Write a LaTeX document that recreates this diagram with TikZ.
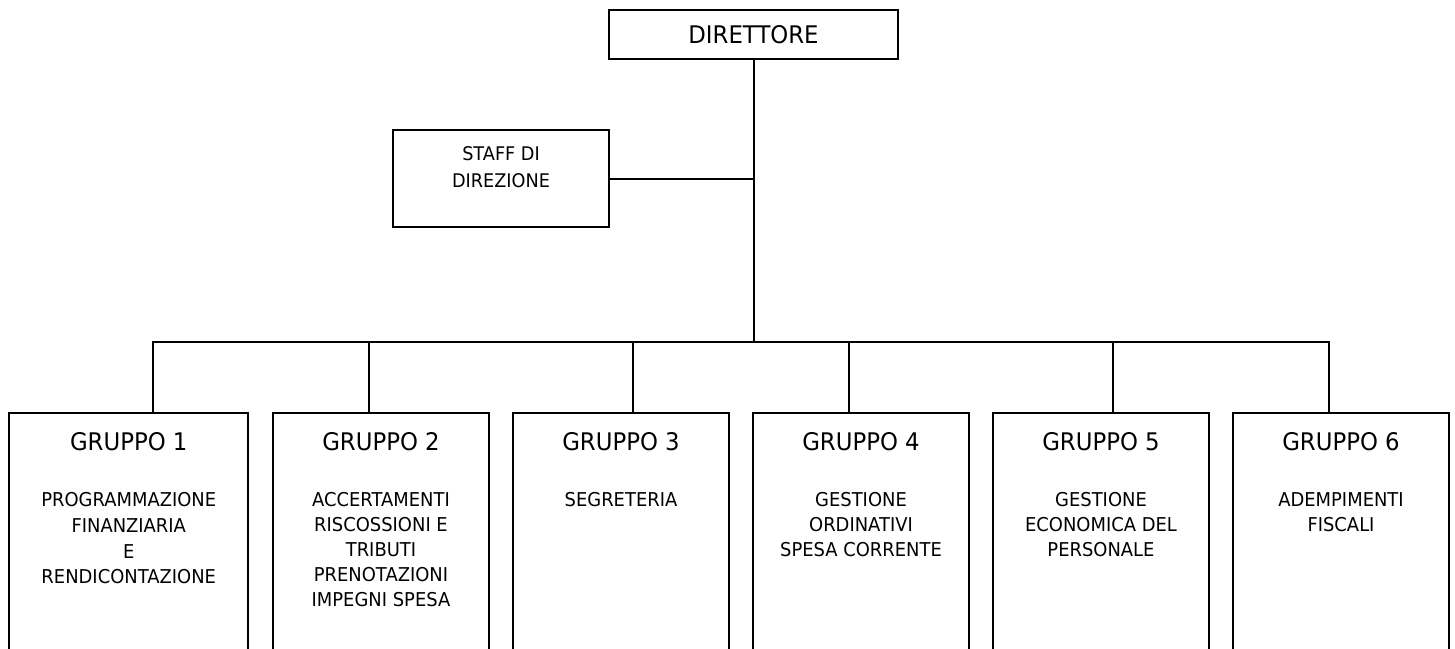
\documentclass[tikz,border=0pt]{standalone}
\usepackage{fontspec}
\setmainfont{DejaVu Sans}[FakeStretch=0.94]
\begin{document}
\begin{tikzpicture}[x=0.75pt,y=-0.75pt,
  box/.style={draw, line width=1.5pt, rectangle, inner sep=0pt},
  wire/.style={line width=1.5pt},
  head/.style={font=\fontsize{18.2pt}{22pt}\selectfont, inner sep=0pt},
  title/.style={font=\fontsize{18.2pt}{22pt}\selectfont, inner sep=0pt, anchor=base},
  desc/.style={font=\fontsize{14.3pt}{18.7pt}\selectfont, align=center, inner sep=0pt, anchor=north},
  grp/.style={box, minimum width=162pt, minimum height=215pt},
]
\clip (0,0) rectangle (1455,649);

% top of the chart
\node[box, head, minimum width=216.75pt, minimum height=36.5pt] (dir) at (753.5,34.3) {DIRETTORE};

\node[box, minimum width=162pt, minimum height=72.75pt] (staff) at (501,178.5) {};
\node[desc, font=\fontsize{14.1pt}{19.8pt}\selectfont] (staffT) at (501,146.5) {STAFF DI\\DIREZIONE};

% the six groups
\node[grp, minimum width=179.6pt] (g1) at (128.75,556.5) {};
\node[grp] (g2) at (381,556.5) {};
\node[grp] (g3) at (621,556.5) {};
\node[grp] (g4) at (861,556.5) {};
\node[grp] (g5) at (1101,556.5) {};
\node[grp] (g6) at (1341,556.5) {};

\node[title] (t1) at (128.75,450) {GRUPPO 1};
\node[title] (t2) at (381,450) {GRUPPO 2};
\node[title] (t3) at (621,450) {GRUPPO 3};
\node[title] (t4) at (861,450) {GRUPPO 4};
\node[title] (t5) at (1101,450) {GRUPPO 5};
\node[title] (t6) at (1341,450) {GRUPPO 6};

\node[desc, font=\fontsize{14.3pt}{19.2pt}\selectfont] (d1) at (128.75,492.5) {PROGRAMMAZIONE\\FINANZIARIA\\E\\RENDICONTAZIONE};
\node[desc] (d2) at (381,492.5) {ACCERTAMENTI\\RISCOSSIONI E\\TRIBUTI\\PRENOTAZIONI\\IMPEGNI SPESA};
\node[desc] (d3) at (621,492.5) {SEGRETERIA};
\node[desc] (d4) at (861,492.5) {GESTIONE\\ORDINATIVI\\SPESA CORRENTE};
\node[desc] (d5) at (1101,492.5) {GESTIONE\\ECONOMICA DEL\\PERSONALE};
\node[desc] (d6) at (1341,492.5) {ADEMPIMENTI\\FISCALI};

% bus points
\coordinate (b1) at (153,342);
\coordinate (b2) at (369,342);
\coordinate (b3) at (633,342);
\coordinate (b4) at (849,342);
\coordinate (b5) at (1113,342);
\coordinate (b6) at (1329,342);

% connectors
\draw[wire] (dir.south) -- (dir.south |- b1);
\draw[wire] (staff.east) -- (staff.east -| dir.south);
\draw[wire, line cap=rect] (b1) -- (b6);
\draw[wire] (b1) -- (b1 |- g1.north);
\draw[wire] (b2) -- (b2 |- g2.north);
\draw[wire] (b3) -- (b3 |- g3.north);
\draw[wire] (b4) -- (b4 |- g4.north);
\draw[wire] (b5) -- (b5 |- g5.north);
\draw[wire] (b6) -- (b6 |- g6.north);
\end{tikzpicture}
\end{document}
